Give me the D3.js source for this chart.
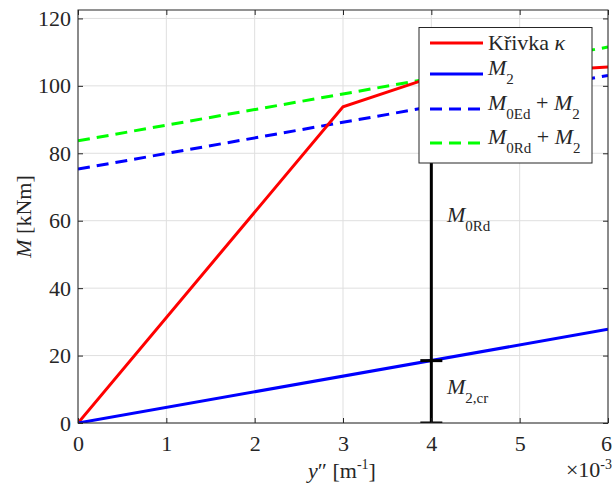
<!DOCTYPE html>
<html><head><meta charset="utf-8">
<script src="https://cdn.jsdelivr.net/npm/d3@7"></script>
<style>body{margin:0;background:#fff}svg{display:block}</style>
</head><body><svg id="c" width="612" height="493" font-family="Liberation Serif"></svg>
<script>
const xTicks = [0,1,2,3,4,5,6];
const yTicks = [0,20,40,60,80,100,120];
const curveX = [0,3,4,6];
const curveM = [0,93.8,102.5,105.6];
const m2X = [0,6];
const m2Y = [0,27.8];
const m0Ed = 75.3;
const m0Rd = 83.7;
const markX = 4;
const markM2 = 18.5;

const FF = "Liberation Serif";
const FS = 22;
const TC = "#262626";
const svg = d3.select("#c");
const L=78, R=608, T=10, B=423;
const x = d3.scaleLinear().domain([0,6]).range([L,R]);
const y = d3.scaleLinear().domain([0,122.5]).range([B,T]);

// grid
svg.append("g").selectAll("line").data(xTicks).join("line")
 .attr("x1",d=>x(d)).attr("x2",d=>x(d)).attr("y1",T).attr("y2",B)
 .attr("stroke","#dfdfdf").attr("stroke-width",1);
svg.append("g").selectAll("line").data(yTicks).join("line")
 .attr("x1",L).attr("x2",R).attr("y1",d=>y(d)).attr("y2",d=>y(d))
 .attr("stroke","#dfdfdf").attr("stroke-width",1);

const line = d3.line().x(d=>x(d[0])).y(d=>y(d[1]));
const m2 = m2X.map((v,i)=>[v,m2Y[i]]);
svg.append("clipPath").attr("id","cp").append("rect").attr("x",L).attr("y",T).attr("width",R-L).attr("height",B-T);
const g = svg.append("g").attr("clip-path","url(#cp)");
g.append("path").datum(m2.map(d=>[d[0],d[1]+m0Ed])).attr("d",line).attr("fill","none").attr("stroke","#0000ff").attr("stroke-width",3).attr("stroke-dasharray","12,7");
g.append("path").datum(m2.map(d=>[d[0],d[1]+m0Rd])).attr("d",line).attr("fill","none").attr("stroke","#00ff00").attr("stroke-width",3).attr("stroke-dasharray","12,7");
g.append("path").datum(curveX.map((v,i)=>[v,curveM[i]])).attr("d",line).attr("fill","none").attr("stroke","#ff0000").attr("stroke-width",3);
g.append("path").datum(m2).attr("d",line).attr("fill","none").attr("stroke","#0000ff").attr("stroke-width",3);

// black marker
const topM = markM2 + m0Rd;
g.append("line").attr("x1",x(markX)).attr("x2",x(markX)).attr("y1",y(0)).attr("y2",y(topM)).attr("stroke","#000").attr("stroke-width",3);
[0,markM2,topM].forEach(v=>{
 g.append("line").attr("x1",x(markX)-11).attr("x2",x(markX)+11).attr("y1",y(v)).attr("y2",y(v)).attr("stroke","#000").attr("stroke-width",3);
});

// axes box and ticks
svg.append("rect").attr("x",L).attr("y",T).attr("width",R-L).attr("height",B-T).attr("fill","none").attr("stroke",TC).attr("stroke-width",1);
const xa = d3.axisBottom(x).tickValues(xTicks).tickSize(-5).tickPadding(12).tickFormat(d3.format("d"));
const xg = svg.append("g").attr("transform",`translate(0,${B})`).call(xa).attr("font-family",FF).attr("font-size",FS);
xg.select(".domain").remove();
xg.selectAll("line").attr("stroke",TC);
xg.selectAll("text").attr("font-family",FF).attr("font-size",FS).attr("fill",TC).attr("dx",d=>d===6?-2:0);
const xt = svg.append("g").attr("transform",`translate(0,${T})`).call(d3.axisTop(x).tickValues(xTicks).tickSize(-5).tickFormat(""));
xt.select(".domain").remove(); xt.selectAll("line").attr("stroke",TC);
const ya = d3.axisLeft(y).tickValues(yTicks).tickSize(-5).tickPadding(7);
const yg = svg.append("g").attr("transform",`translate(${L},0)`).call(ya).attr("font-family",FF).attr("font-size",FS);
yg.select(".domain").remove();
yg.selectAll("line").attr("stroke",TC);
yg.selectAll("text").attr("font-family",FF).attr("font-size",FS).attr("fill",TC);
const yr = svg.append("g").attr("transform",`translate(${R},0)`).call(d3.axisRight(y).tickValues(yTicks).tickSize(-5).tickFormat(""));
yr.select(".domain").remove(); yr.selectAll("line").attr("stroke",TC);

function txt(sel,px,py){
 return sel.append("text").attr("x",px).attr("y",py).attr("font-family",FF).attr("font-size",FS).attr("fill",TC);
}
// axis labels
const xl = txt(svg,342,478).attr("text-anchor","middle");
xl.append("tspan").attr("font-style","italic").text("y");
xl.append("tspan").text("″ [m");
xl.append("tspan").attr("font-size",14).attr("dy",-9).text("-1");
xl.append("tspan").attr("dy",9).text("]");
const xe = txt(svg,612,477).attr("text-anchor","end");
xe.append("tspan").text("×10");
xe.append("tspan").attr("font-size",14).attr("dy",-8).text("-3");
const yl = svg.append("text").attr("transform",`translate(31,${(T+B)/2}) rotate(-90)`).attr("text-anchor","middle").attr("font-family",FF).attr("font-size",FS).attr("fill",TC);
yl.append("tspan").attr("font-style","italic").text("M");
yl.append("tspan").text(" [kNm]");

// annotations
function mSub(px,py,sub){
 const t = txt(svg,px,py);
 t.append("tspan").attr("font-style","italic").text("M");
 t.append("tspan").attr("font-size",15).attr("dy",9).text(sub);
 return t;
}
mSub(447,222,"0Rd");
mSub(447,394,"2,cr");

// legend
const lg = svg.append("g");
lg.append("rect").attr("x",419).attr("y",27.5).attr("width",173).attr("height",135.5).attr("fill","#fff").attr("stroke",TC).attr("stroke-width",1);
const items = [
 {c:"#ff0000",dash:null,ty:43},
 {c:"#0000ff",dash:null,ty:74},
 {c:"#0000ff",dash:"12,7",ty:109},
 {c:"#00ff00",dash:"12,7",ty:143}
];
items.forEach(it=>{
 lg.append("line").attr("x1",430).attr("x2",483).attr("y1",it.ty).attr("y2",it.ty).attr("stroke",it.c).attr("stroke-width",3).attr("stroke-dasharray",it.dash);
});
let t = txt(lg,488,items[0].ty+7);
t.append("tspan").text("Křivka ");
t.append("tspan").attr("font-style","italic").text("κ");
t = txt(lg,488,items[1].ty+1);
t.append("tspan").attr("font-style","italic").text("M");
t.append("tspan").attr("font-size",15).attr("dy",9).text("2");
["0Ed","0Rd"].forEach((s,i)=>{
 const tt = txt(lg,488,items[2+i].ty+1);
 tt.append("tspan").attr("font-style","italic").text("M");
 tt.append("tspan").attr("font-size",15).attr("dy",9).text(s);
 tt.append("tspan").attr("dy",-9).text(" + ");
 tt.append("tspan").attr("font-style","italic").text("M");
 tt.append("tspan").attr("font-size",15).attr("dy",9).text("2");
});
</script></body></html>
